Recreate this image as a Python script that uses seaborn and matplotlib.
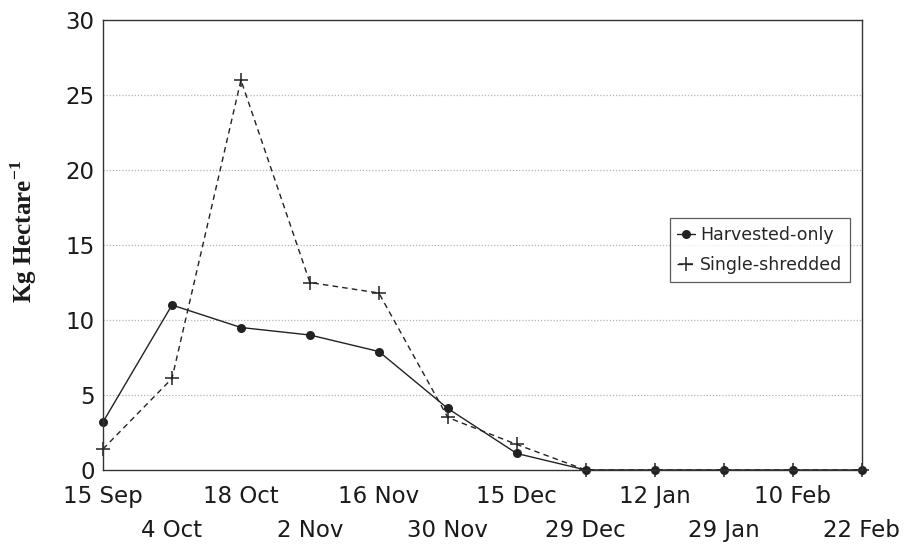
import numpy as np
import pandas as pd
import matplotlib.pyplot as plt
import seaborn as sns

# sampling dates (categorical x axis)
dates = ["15 Sep", "4 Oct", "18 Oct", "2 Nov", "16 Nov", "30 Nov",
         "15 Dec", "29 Dec", "12 Jan", "29 Jan", "10 Feb", "22 Feb"]

# Kg per hectare
harvested_only = [3.2, 11.0, 9.5, 9.0, 7.9, 4.1, 1.1, 0, 0, 0, 0, 0]
single_shredded = [1.4, 6.1, 26.0, 12.5, 11.8, 3.5, 1.7, 0, 0, 0, 0, 0]

pos = np.arange(len(dates))
df = pd.DataFrame({"pos": pos, "harvested": harvested_only, "single": single_shredded})

sns.set_theme(style="white")
plt.rcParams["font.family"] = ["DejaVu Sans"]

fig = plt.figure(figsize=(9.06, 5.5), dpi=100)
ax = fig.add_axes([0.1137, 0.1455, 0.8373, 0.818])

line_col = "#222222"
sns.lineplot(data=df, x="pos", y="single", ax=ax, color=line_col, linewidth=1.0,
             linestyle=(0, (4, 3)), marker="+", markersize=10, markeredgewidth=1.1,
             markeredgecolor=line_col, label="Single-shredded", clip_on=False)
sns.lineplot(data=df, x="pos", y="harvested", ax=ax, color=line_col, linewidth=1.0,
             marker="o", markersize=6.5, markeredgewidth=0, markerfacecolor=line_col,
             label="Harvested-only", clip_on=False)

ax.set_xlim(0, len(dates) - 1)
ax.set_ylim(0, 30)
ax.set_yticks([0, 5, 10, 15, 20, 25, 30])
ax.set_yticklabels(["0", "5", "10", "15", "20", "25", "30"])
for y in [5, 10, 15, 20, 25]:
    ax.axhline(y, color="#b5b5b5", linestyle=(0, (1, 1.5)), linewidth=0.9, zorder=0)

# dates alternate between two rows
ax.set_xticks(pos[::2])
ax.set_xticklabels(dates[::2])
ax.set_xticks(pos[1::2], minor=True)
ax.set_xticklabels(dates[1::2], minor=True)
ax.tick_params(axis="both", which="both", length=0, labelsize=16.5, colors="#1a1a1a")
ax.tick_params(axis="x", which="major", pad=11)
ax.tick_params(axis="x", which="minor", pad=35)
ax.tick_params(axis="y", pad=6)

ax.set_xlabel("")
ax.set_ylabel("Kg Hectare$^{\\mathregular{-1}}$", family="Liberation Serif",
              fontweight="bold", fontsize=18, color="#1a1a1a")
ax.yaxis.set_label_coords(-0.084, 0.53)

for s in ax.spines.values():
    s.set_color("#333333")
    s.set_linewidth(1.0)

handles, labels = ax.get_legend_handles_labels()
leg = ax.legend(handles[::-1], labels[::-1], loc="upper left",
                bbox_to_anchor=(0.747, 0.56), fontsize=12.5, frameon=True,
                fancybox=False, edgecolor="#333333", handlelength=1.0,
                handletextpad=0.3, borderpad=0.45, labelspacing=0.7,
                borderaxespad=0)
leg.get_frame().set_linewidth(0.9)

fig.savefig("out.png", dpi=100)
